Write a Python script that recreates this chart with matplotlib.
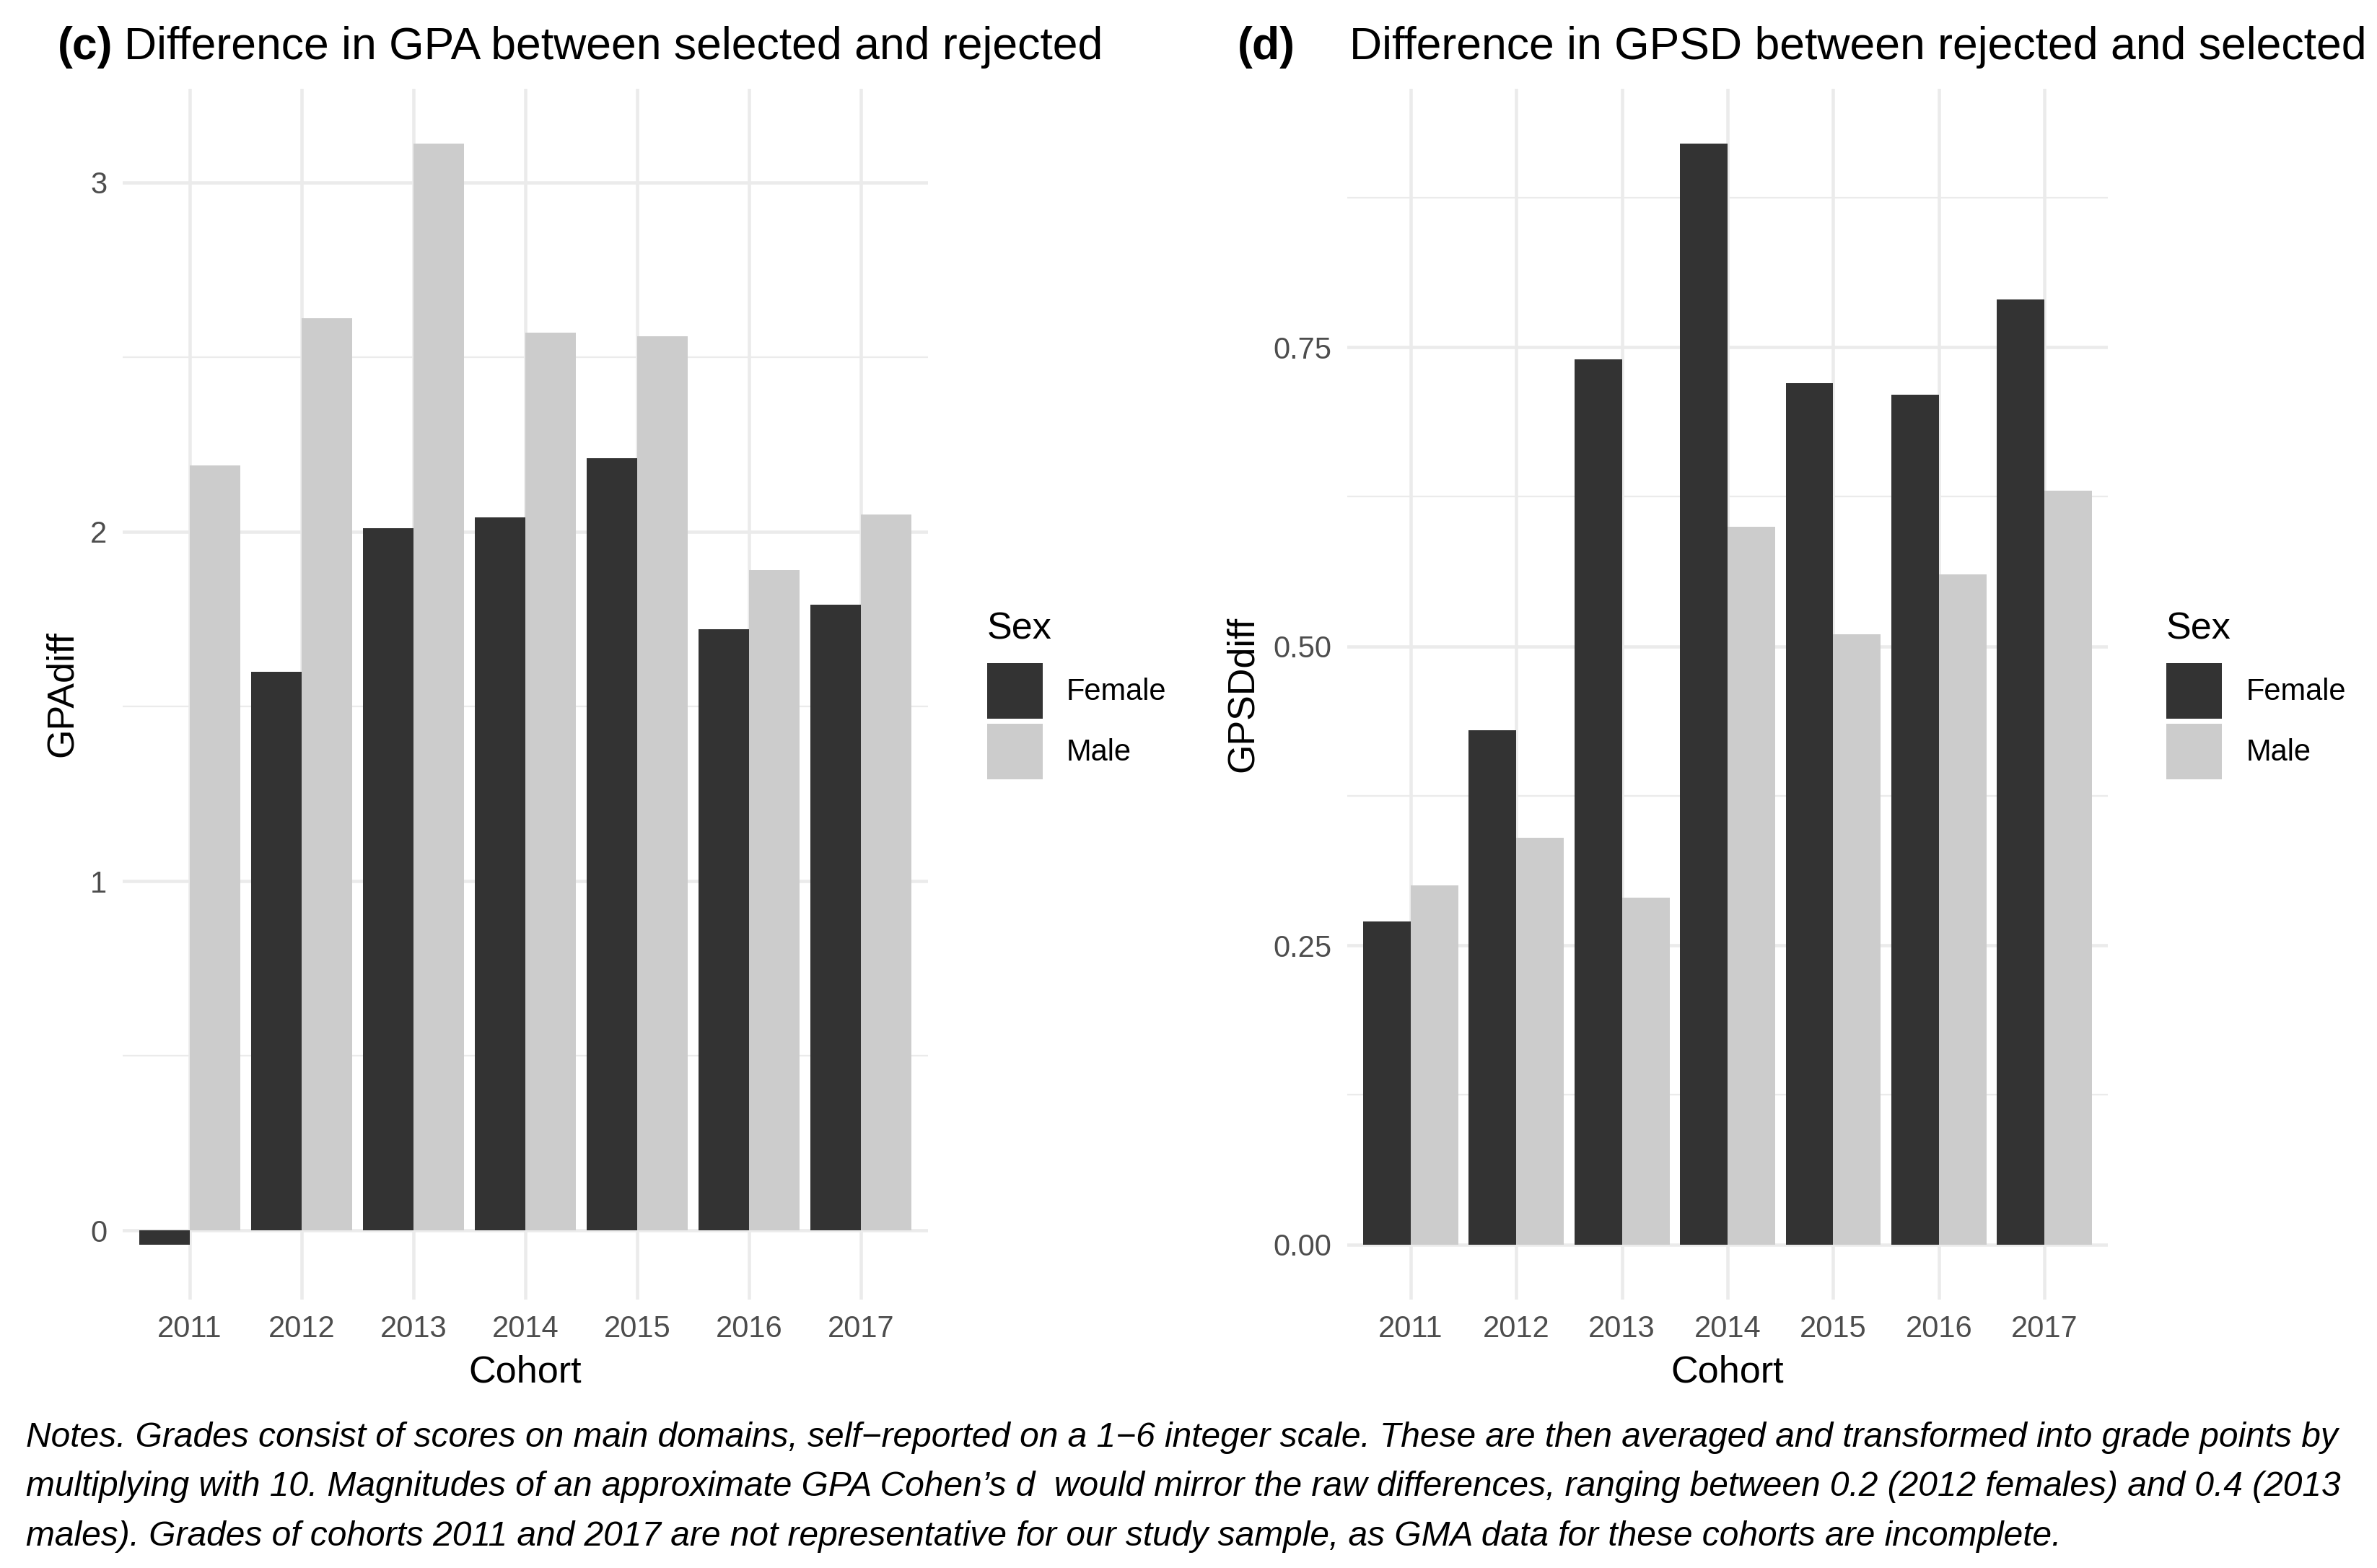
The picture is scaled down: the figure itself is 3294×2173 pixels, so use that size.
import numpy as np
import matplotlib
matplotlib.use("Agg")
import matplotlib.pyplot as plt
from matplotlib.patches import Patch

plt.rcParams['font.family'] = ['Liberation Sans', 'DejaVu Sans']

cohorts = ['2011', '2012', '2013', '2014', '2015', '2016', '2017']
sexes = ['Female', 'Male']
sex_colors = ['#333333', '#CCCCCC']

gpa_female = [-0.04, 1.60, 2.01, 2.04, 2.21, 1.72, 1.79]
gpa_male = [2.19, 2.61, 3.11, 2.57, 2.56, 1.89, 2.05]

gpsd_female = [0.27, 0.43, 0.74, 0.92, 0.72, 0.71, 0.79]
gpsd_male = [0.30, 0.34, 0.29, 0.60, 0.51, 0.56, 0.63]

notes = [
    "Notes. Grades consist of scores on main domains, self\u2212reported on a 1\u22126 integer scale. These are then averaged and transformed into grade points by",
    "multiplying with 10. Magnitudes of an approximate GPA Cohen\u2019s d  would mirror the raw differences, ranging between 0.2 (2012 females) and 0.4 (2013",
    "males). Grades of cohorts 2011 and 2017 are not representative for our study sample, as GMA data for these cohorts are incomplete.",
]

GRID = '#EBEBEB'
TICK = '#4D4D4D'


def ylabel_fmt(v, ticks):
    if all(float(t).is_integer() for t in ticks):
        return '%d' % v
    return '%.2f' % v


def draw_panel(ax, female, male, ylabel, yticks, yminor, ylabel_x):
    x = np.arange(len(cohorts))
    w = 0.45
    ax.bar(x - w / 2, female, width=w, color=sex_colors[0], zorder=3)
    ax.bar(x + w / 2, male, width=w, color=sex_colors[1], zorder=3)

    # ggplot-style expansion: 5% on y, 0.6 units on the discrete x
    vals = np.concatenate([female, male, [0]])
    lo, hi = vals.min(), vals.max()
    pad = (hi - lo) * 0.05
    ax.set_ylim(lo - pad, hi + pad)
    ax.set_xlim(-0.6, len(cohorts) - 0.4)

    ax.set_xticks(x)
    ax.set_xticklabels(cohorts)
    ax.set_yticks(yticks)
    ax.set_yticks(yminor, minor=True)
    ax.set_yticklabels([ylabel_fmt(v, yticks) for v in yticks])

    ax.grid(True, which='major', color=GRID, linewidth=1.1, zorder=0)
    ax.grid(True, which='minor', axis='y', color=GRID, linewidth=0.55, zorder=0)
    for s in ax.spines.values():
        s.set_visible(False)
    ax.tick_params(which='both', length=0)
    ax.tick_params(axis='x', pad=5.0, labelsize=10, labelcolor=TICK)
    ax.tick_params(axis='y', pad=5.2, labelsize=10, labelcolor=TICK)

    ax.set_xlabel('Cohort', fontsize=12.5)
    ax.xaxis.set_label_coords(0.5, -0.0458)
    ax.set_ylabel(ylabel, fontsize=12.5)
    ax.yaxis.set_label_coords(ylabel_x, 0.5)


fig = plt.figure(figsize=(3294 / 300, 2173 / 300), dpi=300)

ax1 = fig.add_axes([0.0516, 0.1712, 0.3388, 0.7722])
draw_panel(ax1, gpa_female, gpa_male, 'GPAdiff', [0, 1, 2, 3], [0.5, 1.5, 2.5], -0.053)

ax2 = fig.add_axes([0.5668, 0.1712, 0.3200, 0.7722])
draw_panel(ax2, gpsd_female, gpsd_male, 'GPSDdiff', [0, 0.25, 0.5, 0.75],
           [0.125, 0.375, 0.625, 0.875], -0.114)

# titles
fig.text(0.0243, 0.9623, '(c)', fontsize=15, fontweight='bold', va='baseline')
fig.text(0.0522, 0.9623, 'Difference in GPA between selected and rejected', fontsize=15, va='baseline')
fig.text(0.5207, 0.9623, '(d)', fontsize=15, fontweight='bold', va='baseline')
fig.text(0.5677, 0.9623, 'Difference in GPSD between rejected and selected', fontsize=15, va='baseline')

# legends (title drawn separately so the gap above the keys matches)
handles = [Patch(facecolor=c, label=s) for c, s in zip(sex_colors, sexes)]
for ax, lx in [(ax1, 0.4153), (ax2, 0.9114)]:
    fig.text(lx, 0.5923, 'Sex', fontsize=12.5, va='baseline')
    ax.legend(handles=handles, loc='upper left',
              bbox_to_anchor=(lx, 0.5770), bbox_transform=fig.transFigure,
              frameon=False, fontsize=10,
              handlelength=1.85, handleheight=2.47, labelspacing=0.15,
              handletextpad=0.79, borderpad=0, borderaxespad=0)

# notes
for line, y in zip(notes, [0.0773, 0.0460, 0.0143]):
    fig.text(0.011, y, line, fontsize=11.5, style='italic', va='baseline')

fig.savefig('out.png', dpi=300)
